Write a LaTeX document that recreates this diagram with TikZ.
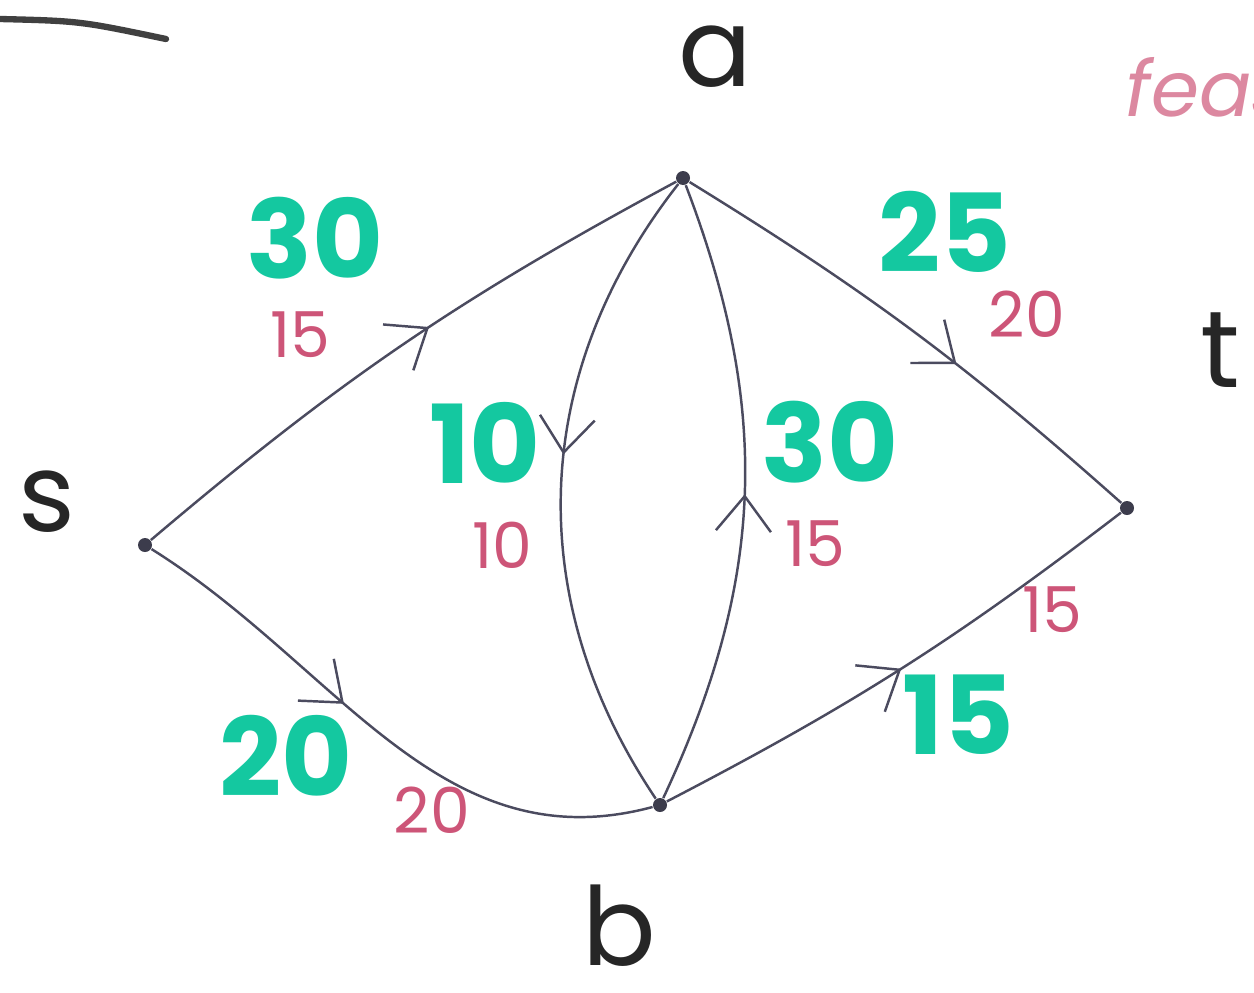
\documentclass[tikz,border=0pt]{standalone}
\usepackage{fontspec}
\setmainfont{Poppins}
\usetikzlibrary{arrows.meta, decorations.markings}
\usepackage{xcolor}
\definecolor{nwLine}{RGB}{75, 75, 95}
\definecolor{nwTeal}{RGB}{20, 200, 160}
\definecolor{nwPink}{RGB}{205, 85, 120}

\begin{document}
\begin{tikzpicture}[
          vert/.style={circle, fill=nwLine!80!black, inner sep=0pt, minimum size=1.4mm},
          vlabel/.style={inner sep=0pt, font=\fontsize{31}{36}\selectfont, color=black!85},
          capnum/.style={inner sep=0pt, font=\fontsize{31}{36}\selectfont\bfseries, color=nwTeal},
          flw/.style={inner sep=0pt, font=\fontsize{18}{22}\selectfont, color=nwPink},
          flow/.style={draw=nwLine, line width=0.7pt, postaction={decorate},
                       decoration={markings, mark=at position #1 with
                         {\arrow{Straight Barb[length=3.5mm, width=5.5mm, line width=0.7pt]}}}},
          flow/.default=0.5]
        \useasboundingbox (0,0) rectangle (12.54,9.92);
        \clip (0,0) rectangle (12.54,9.92);
        \node[vert] (s) at (1.45,4.47) {};
        \node[vert] (a) at (6.83,8.14) {};
        \node[vert] (t) at (11.27,4.84) {};
        \node[vert] (b) at (6.60,1.87) {};
        \node[vlabel] (ls) at (0.47,4.90) {s};
        \node[vlabel] (la) at (7.15,9.35) {a};
        \node[vlabel] (lt) at (12.20,6.42) {t};
        \node[vlabel] (lb) at (6.19,0.66) {b};
        \draw[flow=0.55] (s) to[bend left=6] (a);
        \draw[flow=0.6] (a) to[bend left=5] (t);
        \draw[flow=0.42] (s) to[out=-32, in=195] (b);
        \draw[flow=0.5] (b) to[bend right=5] (t);
        \draw[flow=0.45] (a) to[bend right=36] (b);
        \draw[flow=0.5] (b) to[bend right=23] (a);
        \node[capnum] (csa) at (3.15,7.54) {30};
        \node[capnum] (cat) at (9.45,7.60) {25};
        \node[capnum] (cab) at (4.85,5.49) {10};
        \node[capnum] (cba) at (8.30,5.50) {30};
        \node[capnum] (csb) at (2.86,2.36) {20};
        \node[capnum] (cbt) at (9.58,2.77) {15};
        \node[flw] (fsa) at (3.00,6.57) {15};
        \node[flw] (fat) at (10.27,6.78) {20};
        \node[flw] (fab) at (5.02,4.47) {10};
        \node[flw] (fba) at (8.15,4.48) {15};
        \node[flw] (fsb) at (4.32,1.82) {20};
        \node[flw] (fbt) at (10.52,3.82) {15};
        \node[font=\fontsize{22}{26}\selectfont\itshape, color=nwPink!70, anchor=west, inner sep=0pt]
          (feas) at (11.25,9.05) {feas};
        \draw[line width=1.8pt, color=black!75, line cap=round] (0,9.73) .. controls (0.8,9.71) .. (1.66,9.53);
      \end{tikzpicture}
\end{document}
